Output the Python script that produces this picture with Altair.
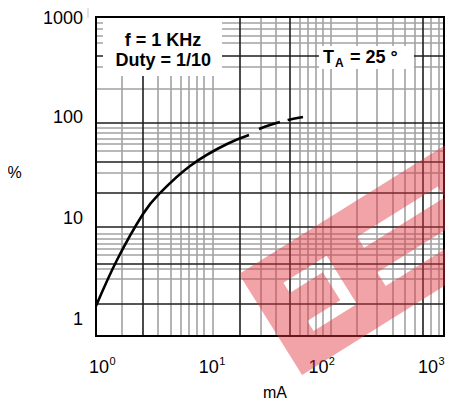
import math
import altair as alt
import pandas as pd

# ---------------- data ----------------
x_ticks = [1, 10, 100, 1000]
x_exps = ["0", "1", "2", "3"]
y_ticks = [1, 10, 100]
y_labels = ["1", "10", "100"]
y_top_tick = [1000]
y_top_label = ["1000"]

solid_x = [0.939, 1.459, 2.518, 3.597, 6.753, 14.69, 23.30]
solid_y = [1.375, 3.917, 11.15, 17.98, 33.24, 54.83, 67.31]
dash_x = [28.74, 36.22, 52.84, 72.37]
dash_y = [77.16, 84.53, 94.69, 101.4]

vgrid_light = [1.621, 3.451, 4.532, 5.591, 6.613, 7.823, 9.061, 10.95, 29.99, 41.07,
               67.97, 80.40, 95.08, 110.1, 130.3, 224.8, 342.1, 478.6, 615.8, 759.6,
               1063, 1257]
vgrid_dark = [2.518, 19.29, 55.10, 898.5]
hgrid_light = [860.6, 750.7, 640.4, 546.1, 316.2, 191.7, 78.91, 70.43, 61.43, 54.83,
               46.77, 28.35, 7.075, 6.317, 5.636, 5.030, 4.388, 3.192, 2.542]
hgrid_dark = [406.1, 88.43, 36.42, 17.98, 8.299, 3.576, 1.439]

X_DOMAIN = [0.939, 1396]
Y_DOMAIN = [0.695, 986]

box_x = [1.088, 101.3]
box_x2 = [13.22, 743]
box_y = [257.8, 302]
box_y2 = [964, 510]

note_text = ["f = 1 KHz", "Duty = 1/10"]
note_x = [3.83, 3.85]
note_y = [510, 323.6]

ta_text = ["T", "= 25 °"]
ta_x = [110, 194.1]
ta_y = [346, 346]
sub_text = ["A"]
sub_x = [141.7]
sub_y = [316.2]

# ---------------- chart ----------------
W, H = 348, 319
FONT = "Liberation Sans"
xs = alt.Scale(type="log", domain=X_DOMAIN, nice=False)
ys = alt.Scale(type="log", domain=Y_DOMAIN, nice=False)


def X(f="x"):
    return alt.X(f"{f}:Q", scale=xs, axis=None)


def Y(f="y"):
    return alt.Y(f"{f}:Q", scale=ys, axis=None)


vl = alt.Chart(pd.DataFrame({"x": vgrid_light})).mark_rule(color="#a2a2a2", strokeWidth=1.6).encode(x=X())
hl = alt.Chart(pd.DataFrame({"y": hgrid_light})).mark_rule(color="#a2a2a2", strokeWidth=1.6).encode(y=Y())
vd = alt.Chart(pd.DataFrame({"x": vgrid_dark})).mark_rule(color="#1e1e1e", strokeWidth=1.6).encode(x=X())
hd = alt.Chart(pd.DataFrame({"y": hgrid_dark})).mark_rule(color="#1e1e1e", strokeWidth=1.6).encode(y=Y())

border = alt.Chart(pd.DataFrame({"a": [0]})).mark_rect(
    fill="white", fillOpacity=0, stroke="black", strokeWidth=2
).encode(x=alt.value(0), x2=alt.value(W), y=alt.value(0), y2=alt.value(H))

boxes = alt.Chart(pd.DataFrame({"x": box_x, "x2": box_x2, "y": box_y, "y2": box_y2})).mark_rect(
    fill="white"
).encode(x=X(), x2="x2:Q", y=Y(), y2="y2:Q")

notes = alt.Chart(pd.DataFrame({"x": note_x, "y": note_y, "t": note_text})).mark_text(
    font=FONT, fontSize=18, fontWeight="bold", align="center", baseline="alphabetic", color="black"
).encode(x=X(), y=Y(), text="t:N")

ta = alt.Chart(pd.DataFrame({"x": ta_x, "y": ta_y, "t": ta_text})).mark_text(
    font=FONT, fontSize=18, fontWeight="bold", align="left", baseline="alphabetic", color="black"
).encode(x=X(), y=Y(), text="t:N")

ta_sub = alt.Chart(pd.DataFrame({"x": sub_x, "y": sub_y, "t": sub_text})).mark_text(
    font=FONT, fontSize=12, fontWeight="bold", align="left", baseline="alphabetic", color="black"
).encode(x=X(), y=Y(), text="t:N")

solid = alt.Chart(pd.DataFrame({"x": solid_x, "y": solid_y})).mark_line(
    color="black", strokeWidth=2.6, interpolate="natural"
).encode(x=X(), y=Y())

dashed = alt.Chart(pd.DataFrame({"x": dash_x, "y": dash_y})).mark_line(
    color="black", strokeWidth=2.6, interpolate="natural", strokeDash=[22, 8]
).encode(x=X(), y=Y())

ylab = alt.Chart(pd.DataFrame({"y": y_ticks, "t": y_labels})).mark_text(
    font=FONT, fontSize=18, align="right", baseline="middle", color="black"
).encode(x=alt.value(-13), y=Y(), text="t:N")

ylab_top = alt.Chart(pd.DataFrame({"y": y_top_tick, "t": y_top_label})).mark_text(
    font=FONT, fontSize=18, align="right", baseline="middle", color="black", dy=2.5
).encode(x=alt.value(-13), y=Y(), text="t:N")

xbase = alt.Chart(pd.DataFrame({"x": x_ticks, "t": ["10"] * len(x_ticks)})).mark_text(
    font=FONT, fontSize=18, align="center", baseline="alphabetic", color="black"
).encode(x=X(), y=alt.value(356), text="t:N")

xexp = alt.Chart(pd.DataFrame({"x": x_ticks, "t": x_exps})).mark_text(
    font=FONT, fontSize=11, align="center", baseline="alphabetic", color="black", dx=13.5
).encode(x=X(), y=alt.value(348), text="t:N")

pct = alt.Chart(pd.DataFrame({"t": ["%"]})).mark_text(
    font=FONT, fontSize=16, align="center", baseline="middle", color="black"
).encode(x=alt.value(-81.5), y=alt.value(155.5), text="t:N")

ma = alt.Chart(pd.DataFrame({"t": ["mA"]})).mark_text(
    font=FONT, fontSize=16, align="center", baseline="alphabetic", color="black"
).encode(x=alt.value(179), y=alt.value(381), text="t:N")

stub = alt.Chart(pd.DataFrame({"a": [0]})).mark_rule(color="#c8c8c8", strokeWidth=1).encode(
    x=alt.value(-8), y=alt.value(-13), y2=alt.value(1)
)

# watermark logo (decorative): rotated band with cut-outs
ang = math.radians(32)
ux, uy = math.cos(ang), -math.sin(ang)
vx, vy = math.sin(ang), math.cos(ang)


def poly(pts, reverse=False):
    pts = list(reversed(pts)) if reverse else pts
    xy = [(s * ux + t * vx, s * uy + t * vy) for s, t in pts]
    return "M" + " L".join(f"{a:.1f},{b:.1f}" for a, b in xy) + " Z"


band = [(0, 0), (430, 0), (430, 119), (0, 119)]
frame = [(33, 31), (84, 31), (84, 88), (33, 88), (33, 76), (72, 76), (72, 43), (33, 43)]
bar1 = [(120, 31), (215, 31), (215, 44), (120, 44)]
bar2 = [(118, 72), (215, 72), (215, 88), (118, 88)]
logo_path = " ".join([poly(band), poly(frame, True), poly(bar1, True), poly(bar2, True)])

logo = alt.Chart(pd.DataFrame({"a": [0]})).mark_point(
    shape=logo_path, size=4, filled=True, color="#e0323c", opacity=0.45, strokeWidth=0
).encode(x=alt.value(143), y=alt.value(257))

chart = alt.layer(
    vl, hl, vd, hd, stub, boxes, border, notes, ta, ta_sub, solid, dashed,
    ylab, ylab_top, xbase, xexp, pct, ma, logo
).properties(
    width=W, height=H,
    padding={"left": 88, "top": 9, "right": 1, "bottom": 68},
    autosize=alt.AutoSizeParams(type="none"),
).configure_view(stroke=None).configure(font=FONT)

chart.save("out.html", embed_options={"renderer": "svg", "actions": False})
